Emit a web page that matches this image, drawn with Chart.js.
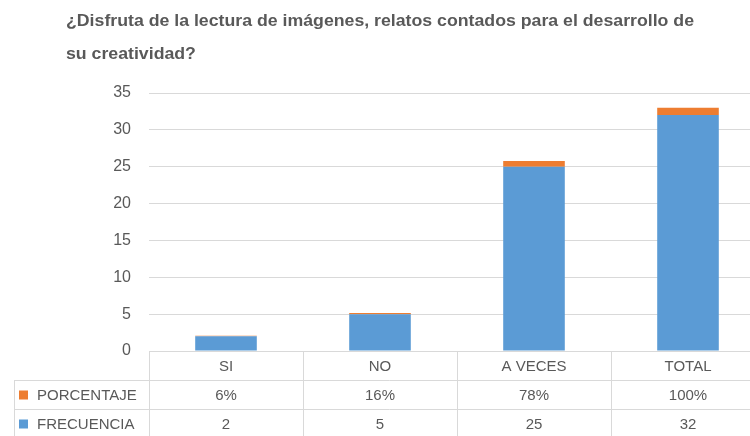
<!DOCTYPE html>
<html>
<head>
<meta charset="utf-8">
<script src="https://cdn.jsdelivr.net/npm/chart.js@4/dist/chart.umd.min.js"></script>
<style>
  html, body { margin: 0; padding: 0; background: #fff; overflow: hidden; }
  #wrap { width: 750px; height: 436px; overflow: hidden; position: relative; }
  canvas { display: block; }
</style>
</head>
<body>
<div id="wrap"><canvas id="c" width="770" height="436"></canvas></div>
<script>
const titleLines = ["¿Disfruta de la lectura de imágenes, relatos contados para el desarrollo de", "su creatividad?"];
const categories = ["SI", "NO", "A VECES", "TOTAL"];
const frecuencia = [2, 5, 25, 32];
const porcentaje = [0.06, 0.16, 0.78, 1.00];
const porcentajeLabels = ["6%", "16%", "78%", "100%"];
const yTicks = [0, 5, 10, 15, 20, 25, 30, 35];

const BLUE = "#5b9bd5";
const ORANGE = "#ed7d31";
const TEXT = "#595959";
const LINE = "#d9d9d9";
const FONT = "'Liberation Sans', Arial, sans-serif";

const tablePlugin = {
  id: "tablePlugin",
  afterDraw(chart) {
    const ctx = chart.ctx;
    const x = chart.scales.x;
    const area = chart.chartArea;
    ctx.save();
    // Title (stretched horizontally to the reference's line length)
    ctx.font = "bold 16px " + FONT;
    ctx.fillStyle = TEXT;
    ctx.textAlign = "left";
    ctx.textBaseline = "middle";
    const w = ctx.measureText(titleLines[0]).width;
    const sx = 628 / w;
    ctx.save();
    ctx.translate(66, 0);
    ctx.scale(sx, 1);
    ctx.fillText(titleLines[0], 0, 22);
    ctx.fillText(titleLines[1], 0, 55);
    ctx.restore();

    // Table geometry
    const n = categories.length;
    const step = x.getPixelForValue(1) - x.getPixelForValue(0);
    const left = x.getPixelForValue(0) - step / 2;
    const right = x.getPixelForValue(n - 1) + step / 2;
    const top = area.bottom;
    const rowH = 29;
    const r1 = top + rowH, r2 = top + 2 * rowH, r3 = top + 3 * rowH;
    const legLeft = 14.5;

    ctx.strokeStyle = LINE;
    ctx.lineWidth = 1;
    ctx.beginPath();
    ctx.moveTo(left, top + 0.5); ctx.lineTo(right, top + 0.5);
    ctx.moveTo(legLeft, r1 + 0.5); ctx.lineTo(right, r1 + 0.5);
    ctx.moveTo(legLeft, r2 + 0.5); ctx.lineTo(right, r2 + 0.5);
    ctx.moveTo(legLeft, r3 + 0.5); ctx.lineTo(right, r3 + 0.5);
    for (let i = 0; i <= n; i++) {
      const px = Math.round(left + i * step) + 0.5;
      ctx.moveTo(px, top); ctx.lineTo(px, r3);
    }
    ctx.moveTo(legLeft, r1); ctx.lineTo(legLeft, r3);
    ctx.stroke();

    ctx.font = "15px " + FONT;
    ctx.fillStyle = TEXT;
    ctx.textAlign = "center";
    ctx.textBaseline = "middle";
    for (let i = 0; i < n; i++) {
      const cx = x.getPixelForValue(i);
      ctx.fillText(categories[i], cx, top + rowH / 2 + 1);
      ctx.fillText(porcentajeLabels[i], cx, r1 + rowH / 2 + 1);
      ctx.fillText(String(frecuencia[i]), cx, r2 + rowH / 2 + 1);
    }
    ctx.textAlign = "left";
    ctx.fillStyle = ORANGE;
    ctx.fillRect(19, r1 + rowH / 2 - 4, 9, 9);
    ctx.fillStyle = BLUE;
    ctx.fillRect(19, r2 + rowH / 2 - 4, 9, 9);
    ctx.fillStyle = TEXT;
    ctx.fillText("PORCENTAJE", 37, r1 + rowH / 2 + 1);
    ctx.fillText("FRECUENCIA", 37, r2 + rowH / 2 + 1);
    ctx.restore();
  }
};

new Chart(document.getElementById("c"), {
  type: "bar",
  data: {
    labels: categories,
    datasets: [
      { label: "FRECUENCIA", data: frecuencia, backgroundColor: BLUE, barPercentage: 0.4, categoryPercentage: 1 },
      { label: "PORCENTAJE", data: porcentaje, backgroundColor: ORANGE, barPercentage: 0.4, categoryPercentage: 1 }
    ]
  },
  options: {
    responsive: false,
    animation: false,
    layout: { padding: { top: 93, left: 0, right: 5, bottom: 85 } },
    plugins: { legend: { display: false }, title: { display: false }, tooltip: { enabled: false } },
    scales: {
      x: { stacked: true, display: false },
      y: {
        stacked: true,
        min: 0, max: 35,
        afterBuildTicks(scale) { scale.ticks = yTicks.map(v => ({ value: v })); },
        afterFit(scale) { scale.width = 149; },
        border: { display: false },
        grid: { color: LINE, drawTicks: false, lineWidth: 1 },
        ticks: { padding: 18, color: TEXT, font: { family: FONT, size: 16 } }
      }
    }
  },
  plugins: [tablePlugin]
});
</script>
</body>
</html>
